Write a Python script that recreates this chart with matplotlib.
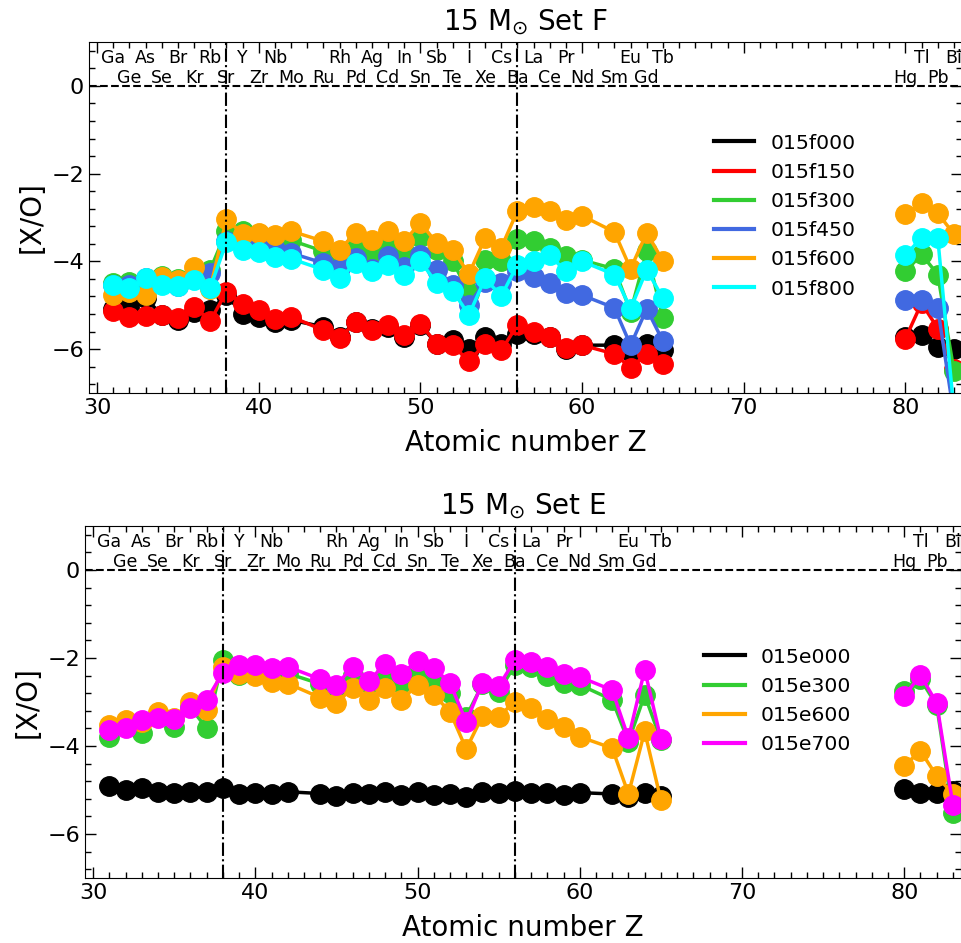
import numpy as np
import matplotlib
matplotlib.use("Agg")
import matplotlib.pyplot as plt
from matplotlib.ticker import MultipleLocator, AutoMinorLocator

# ---- data ----
Z_low = [31, 32, 33, 34, 35, 36, 37, 38, 39, 40, 41, 42, 44, 45, 46, 47, 48, 49, 50,
         51, 52, 53, 54, 55, 56, 57, 58, 59, 60, 62, 63, 64, 65]
Z_high = [80, 81, 82, 83]

odd_names = ["Ga", "As", "Br", "Rb", "Y", "Nb", "Rh", "Ag", "In", "Sb", "I", "Cs",
             "La", "Pr", "Eu", "Tb", "Tl", "Bi"]
odd_Z = [31, 33, 35, 37, 39, 41, 45, 47, 49, 51, 53, 55, 57, 59, 63, 65, 81, 83]
even_names = ["Ge", "Se", "Kr", "Sr", "Zr", "Mo", "Ru", "Pd", "Cd", "Sn", "Te", "Xe",
              "Ba", "Ce", "Nd", "Sm", "Gd", "Hg", "Pb"]
even_Z = [32, 34, 36, 38, 40, 42, 44, 46, 48, 50, 52, 54, 56, 58, 60, 62, 64, 80, 82]

# Set F
f000 = [-5.08, -5.03, -4.84, -5.22, -5.33, -5.15, -5.11, -4.77, -5.19, -5.26, -5.38, -5.34,
        -5.49, -5.72, -5.38, -5.55, -5.50, -5.72, -5.45, -5.88, -5.79, -6.00, -5.72, -5.88,
        -5.65, -5.65, -5.72, -6.00, -5.91, -5.91, -6.07, -5.88, -6.03,
        -5.72, -5.68, -5.95, -6.00]
f150 = [-5.13, -5.26, -5.24, -5.22, -5.29, -5.03, -5.36, -4.69, -4.97, -5.11, -5.32, -5.26,
        -5.57, -5.75, -5.38, -5.57, -5.44, -5.68, -5.42, -5.88, -5.91, -6.28, -5.88, -6.03,
        -5.45, -5.61, -5.72, -5.98, -5.91, -6.11, -6.42, -6.11, -6.35,
        -5.76, -4.95, -5.53, -6.46]
f300 = [-4.50, -4.48, -4.45, -4.33, -4.40, -4.30, -4.19, -3.31, -3.31, -3.38, -3.47, -3.52,
        -3.77, -3.92, -3.58, -3.78, -3.54, -3.77, -3.45, -3.73, -3.99, -4.73, -3.97, -4.00,
        -3.50, -3.54, -3.69, -3.88, -3.97, -4.17, -5.15, -3.77, -5.29,
        -4.23, -3.84, -4.30, -6.49]
f450 = [-4.53, -4.53, -4.39, -4.50, -4.55, -4.40, -4.27, -3.54, -3.61, -3.65, -3.72, -3.81,
        -4.04, -4.16, -3.92, -4.18, -3.88, -4.12, -3.86, -4.19, -4.53, -4.99, -4.46, -4.50,
        -4.23, -4.35, -4.50, -4.73, -4.77, -5.06, -5.91, -5.08, -5.82,
        -4.88, -4.88, -5.06, -7.50]
f600 = [-4.76, -4.69, -4.76, -4.35, -4.42, -4.12, -4.62, -3.03, -3.38, -3.35, -3.40, -3.31,
        -3.54, -3.73, -3.35, -3.52, -3.31, -3.54, -3.12, -3.58, -3.73, -4.29, -3.47, -3.69,
        -2.85, -2.77, -2.85, -3.06, -2.96, -3.33, -4.17, -3.35, -3.99,
        -2.92, -2.67, -2.90, -3.38]
f800 = [-4.53, -4.60, -4.39, -4.53, -4.57, -4.42, -4.60, -3.56, -3.73, -3.78, -3.90, -3.94,
        -4.19, -4.39, -4.04, -4.23, -4.08, -4.30, -3.99, -4.50, -4.67, -5.22, -4.39, -4.79,
        -4.08, -4.00, -3.86, -4.23, -4.00, -4.30, -5.08, -4.19, -4.84,
        -3.86, -3.46, -3.46, -7.40]

# Set E
e000 = [-4.92, -5.00, -4.96, -5.04, -5.06, -5.04, -5.04, -4.96, -5.08, -5.06, -5.09, -5.04,
        -5.08, -5.14, -5.06, -5.08, -5.04, -5.11, -5.04, -5.11, -5.08, -5.15, -5.04, -5.06,
        -5.02, -5.06, -5.06, -5.11, -5.06, -5.09, -5.15, -5.06, -5.14,
        -4.98, -5.06, -5.06, -5.02]
e300 = [-3.79, -3.55, -3.71, -3.35, -3.56, -3.12, -3.60, -2.05, -2.39, -2.30, -2.39, -2.35,
        -2.59, -2.68, -2.39, -2.56, -2.39, -2.56, -2.27, -2.54, -2.80, -3.33, -2.60, -2.77,
        -2.16, -2.20, -2.42, -2.56, -2.61, -2.95, -3.90, -2.84, -3.86,
        -2.74, -2.48, -3.07, -5.53]
e600 = [-3.52, -3.41, -3.45, -3.22, -3.37, -2.99, -3.18, -2.20, -2.36, -2.42, -2.54, -2.58,
        -2.90, -3.02, -2.68, -2.95, -2.68, -2.95, -2.61, -2.84, -3.22, -4.07, -3.32, -3.33,
        -2.99, -3.14, -3.39, -3.57, -3.79, -4.05, -5.09, -3.67, -5.23,
        -4.45, -4.11, -4.68, -5.09]
e700 = [-3.64, -3.60, -3.41, -3.37, -3.38, -3.14, -2.95, -2.33, -2.16, -2.17, -2.23, -2.20,
        -2.48, -2.61, -2.20, -2.52, -2.14, -2.36, -2.06, -2.23, -2.57, -3.45, -2.56, -2.64,
        -2.05, -2.08, -2.20, -2.36, -2.43, -2.73, -3.82, -2.27, -3.84,
        -2.86, -2.39, -3.02, -5.34]

series_F = [("015f000", f000, "black"), ("015f150", f150, "red"),
            ("015f300", f300, "limegreen"), ("015f450", f450, "royalblue"),
            ("015f600", f600, "orange"), ("015f800", f800, "cyan")]
series_E = [("015e000", e000, "black"), ("015e300", e300, "limegreen"),
            ("015e600", e600, "orange"), ("015e700", e700, "magenta")]

W, H = 962, 943
fig = plt.figure(figsize=(W / 100, H / 100), dpi=100)


def px_axes(l, t, r, b):
    return fig.add_axes([l / W, 1 - b / H, (r - l) / W, (b - t) / H])


ax1 = px_axes(89, 42, 962, 393)
ax2 = px_axes(85, 526, 961, 878)


def draw(ax, series, title, legend_anchor):
    xs = Z_low + [np.nan] + Z_high
    nlow = len(Z_low)
    for name, vals, col in series:
        ys = list(vals[:nlow]) + [np.nan] + list(vals[nlow:])
        ax.plot(xs, ys, '-', color=col, lw=2.5, marker='o', ms=14, mec=col,
                mfc=col, label=name)
    ax.axhline(0, color='black', ls='--', lw=1.5)
    ax.axvline(38, color='black', ls='-.', lw=1.5)
    ax.axvline(56, color='black', ls='-.', lw=1.5)
    for n, z in zip(odd_names, odd_Z):
        ax.text(z, 0.52, n, ha='center', va='baseline', fontsize=12.5)
    for n, z in zip(even_names, even_Z):
        ax.text(z, 0.06, n, ha='center', va='baseline', fontsize=12.5)
    ax.set_xlim(29.5, 83.5)
    ax.set_ylim(-7, 1)
    ax.xaxis.set_major_locator(MultipleLocator(10))
    ax.xaxis.set_minor_locator(MultipleLocator(1))
    ax.yaxis.set_major_locator(MultipleLocator(2))
    ax.yaxis.set_minor_locator(AutoMinorLocator(5))
    ax.tick_params(which='both', direction='in', top=True, right=True, labelsize=16)
    ax.tick_params(which='major', length=8, width=1)
    ax.tick_params(which='minor', length=4, width=1)
    ax.set_xlabel("Atomic number Z", fontsize=20, labelpad=8)
    ax.set_ylabel("[X/O]", fontsize=20)
    ax.set_title(title, fontsize=20, pad=9)
    leg = ax.legend(loc='center left', bbox_to_anchor=legend_anchor, frameon=False,
                    fontsize=14.7, borderaxespad=0, handlelength=2.0)
    for line in leg.get_lines():
        line.set_marker('')
        line.set_linewidth(3)


draw(ax1, series_F, r"15 M$_{\odot}$ Set F", (0.706, 0.504))
draw(ax2, series_E, r"15 M$_{\odot}$ Set E", (0.697, 0.503))

fig.savefig("out.png", dpi=100)
